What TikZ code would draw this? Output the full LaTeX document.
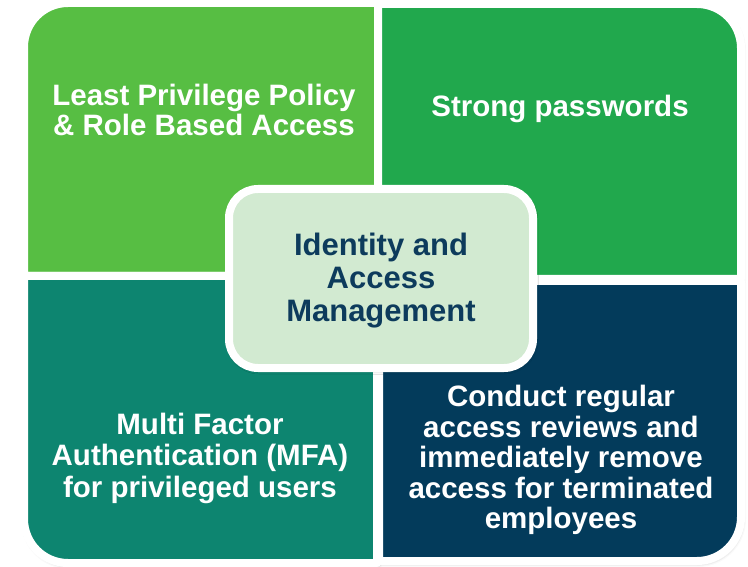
\documentclass[tikz,border=0pt]{standalone}
\usepackage{fontspec}
\setmainfont{Liberation Sans}
\usetikzlibrary{shadows.blur}
\definecolor{tlgreen}{HTML}{57BE43}
\definecolor{trgreen}{HTML}{21A84D}
\definecolor{blteal}{HTML}{0D8570}
\definecolor{brnavy}{HTML}{033B5B}
\definecolor{corefill}{HTML}{D2EAD1}
\definecolor{coretext}{HTML}{0D3B5C}
\begin{document}
\begin{tikzpicture}[x=1pt,y=-1pt,
  softshadow/.style={blur shadow={shadow xshift=1pt, shadow yshift=-2pt,
      shadow blur radius=4pt, shadow opacity=35}},
  tile/.style={draw=white, line width=8pt, line join=round},
  tiletext/.style={text=white, align=center,
      font=\bfseries\fontsize{29.5}{30.5}\selectfont},
  coretxt/.style={text=coretext, align=center,
      font=\bfseries\fontsize{31}{33}\selectfont},
]
\useasboundingbox (0,0) rectangle (748,567);

% quadrant outlines, each with one rounded outer corner
% (y axis points down, so arc angles run the other way round)
\def\tlpath{(24,47) arc[start angle=180, end angle=270, radius=44] -- (378,3) -- (378,276) -- (24,276) -- cycle}
\def\trpath{(378,4) -- (697,4) arc[start angle=270, end angle=360, radius=44] -- (741,279) -- (378,279) -- cycle}
\def\blpath{(24,276) -- (377,276) -- (377,563) -- (68,563) arc[start angle=90, end angle=180, radius=44] -- cycle}
\def\brpath{(379,281) -- (741,281) -- (741,517) arc[start angle=0, end angle=90, radius=44] -- (379,561) -- cycle}

% shadows first, so no tile shades its neighbour
\path[softshadow] \tlpath;
\path[softshadow] \trpath;
\path[softshadow] \blpath;
\path[softshadow] \brpath;

% tiles
\path[tile, fill=tlgreen] \tlpath;
\path[tile, fill=trgreen] \trpath;
\path[tile, fill=blteal] \blpath;
\path[tile, fill=brnavy] \brpath;

% central box
\path[softshadow, tile, fill=corefill, rounded corners=29pt]
  (229,189) rectangle (533,368);

% labels
\node[tiletext] (lp) at (204,110) {Least Privilege Policy\\\& Role Based Access};
\node[tiletext] (sp) at (560,109) {Strong passwords};
\node[tiletext, font=\bfseries\fontsize{29.5}{31.5}\selectfont] (mfa) at (200,458)
  {Multi Factor\\Authentication (MFA)\\for privileged users};
\node[tiletext] (rev) at (561,460)
  {Conduct regular\\access reviews and\\immediately remove\\access for terminated\\employees};
\node[coretxt] (iam) at (381,280.5) {Identity and\\Access\\Management};
\end{tikzpicture}
\end{document}
